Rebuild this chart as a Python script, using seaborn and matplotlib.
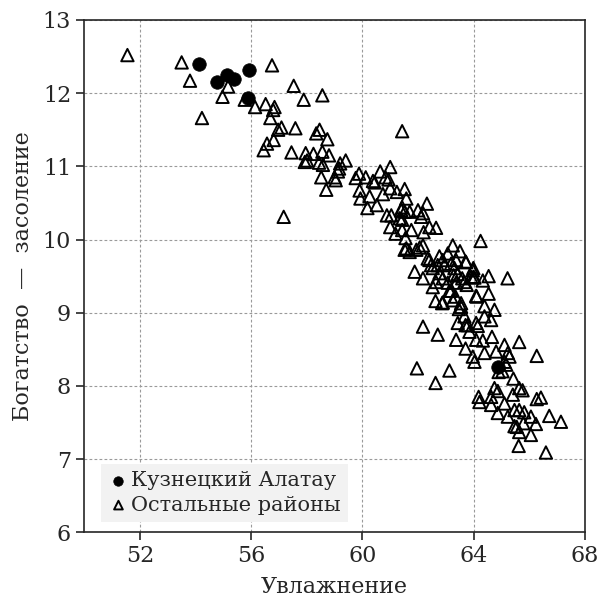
import seaborn as sns
import matplotlib.pyplot as plt
import pandas as pd

# Кузнецкий Алатау (круги)
kuz_x = [54.13, 54.78, 55.13, 55.38, 55.93, 55.90, 64.89]
kuz_y = [12.40, 12.15, 12.25, 12.19, 12.31, 11.93, 8.26]

# Остальные районы (треугольники)
oth_x = [51.55, 53.50, 53.80, 55.17, 54.97, 54.23, 55.77, 56.75, 56.14, 56.52,
         56.84, 56.79, 56.69, 56.57, 56.45, 56.81, 56.97, 57.53, 57.89, 58.56,
         57.09, 57.59, 58.46, 58.34, 58.74, 57.45, 57.96, 58.01, 57.93, 58.24,
         58.56, 58.80, 58.44, 58.58, 59.20, 59.16, 59.12, 59.40, 58.52, 59.00,
         59.04, 58.70, 57.17, 59.88, 59.76, 60.12, 60.38, 60.44, 60.64, 61.00,
         60.83, 60.94, 61.43, 59.90, 59.93, 60.26, 60.52, 60.18, 60.74, 61.00,
         61.24, 61.52, 60.88, 61.43, 61.40, 61.52, 61.34, 61.43, 61.00, 61.19,
         61.43, 61.55, 61.58, 61.58, 61.70, 62.00, 62.11, 62.32, 62.18, 62.41,
         62.65, 62.20, 61.76, 61.04, 61.52, 61.70, 61.94, 62.06, 62.18, 64.25,
         65.22, 63.25, 63.51, 63.07, 63.71, 63.99, 63.99, 64.54, 64.33, 64.09,
         64.54, 64.39, 64.75, 64.63, 64.39, 62.77, 62.89, 62.71, 62.95, 62.47,
         62.53, 62.41, 62.35, 63.19, 63.31, 63.28, 63.43, 63.59, 63.75, 63.67,
         62.77, 62.89, 62.65, 63.07, 63.37, 61.88, 62.18, 62.53, 63.19, 63.35,
         63.55, 63.55, 62.63, 62.89, 63.47, 63.43, 63.71, 63.67, 64.09, 62.18,
         63.37, 63.91, 63.97, 64.03, 63.73, 63.13, 62.87, 63.25, 64.11, 63.79,
         64.15, 62.71, 61.96, 63.13, 62.63, 65.64, 66.27, 63.37, 63.71, 63.97,
         64.03, 64.33, 64.09, 64.39, 64.66, 64.81, 65.11, 65.23, 65.29, 65.11,
         65.17, 64.90, 65.04, 65.43, 65.64, 65.76, 65.41, 64.75, 64.87, 64.18,
         64.21, 64.63, 64.87, 65.23, 65.47, 65.64, 65.82, 66.06, 66.24, 65.79,
         65.55, 65.47, 65.64, 66.06, 65.62, 66.60, 66.72, 67.14, 66.27, 66.42,
         64.63, 65.11, 63.85]
oth_y = [12.52, 12.42, 12.17, 12.09, 11.95, 11.66, 11.91, 12.38, 11.81, 11.85,
         11.81, 11.77, 11.66, 11.31, 11.22, 11.36, 11.50, 12.10, 11.91, 11.97,
         11.53, 11.52, 11.50, 11.45, 11.37, 11.19, 11.18, 11.08, 11.06, 11.17,
         11.20, 11.15, 11.05, 11.02, 11.04, 10.97, 10.93, 11.08, 10.85, 10.85,
         10.81, 10.68, 10.31, 10.90, 10.84, 10.85, 10.80, 10.78, 10.93, 10.99,
         10.85, 10.82, 11.48, 10.67, 10.56, 10.59, 10.47, 10.43, 10.62, 10.70,
         10.65, 10.69, 10.33, 10.44, 10.40, 10.38, 10.29, 10.27, 10.17, 10.08,
         10.13, 10.02, 9.88, 10.56, 10.38, 10.40, 10.31, 10.49, 10.36, 10.17,
         10.16, 10.10, 10.13, 10.33, 9.86, 9.83, 9.86, 9.89, 9.92, 9.98,
         9.47, 9.92, 9.84, 9.81, 9.70, 9.61, 9.49, 9.50, 9.44, 9.23,
         9.26, 9.09, 9.04, 8.90, 8.95, 9.77, 9.72, 9.65, 9.65, 9.65,
         9.61, 9.72, 9.74, 9.67, 9.61, 9.51, 9.53, 9.47, 9.38, 9.42,
         9.54, 9.47, 9.42, 9.41, 9.41, 9.56, 9.47, 9.35, 9.30, 9.22,
         9.13, 9.08, 9.16, 9.14, 9.05, 8.86, 8.83, 8.95, 8.86, 8.81,
         9.72, 9.49, 9.58, 9.48, 9.69, 9.30, 9.13, 9.17, 9.22, 8.83,
         8.82, 8.70, 8.24, 8.21, 8.04, 8.60, 8.41, 8.63, 8.51, 8.40,
         8.33, 8.62, 8.63, 8.45, 8.67, 8.47, 8.56, 8.45, 8.40, 8.33,
         8.29, 8.19, 8.20, 8.10, 7.97, 7.94, 7.88, 7.97, 7.93, 7.85,
         7.78, 7.74, 7.63, 7.58, 7.67, 7.67, 7.64, 7.58, 7.48, 7.49,
         7.44, 7.45, 7.37, 7.33, 7.18, 7.09, 7.59, 7.51, 7.82, 7.84,
         7.85, 7.76, 8.74]

labels = ["Кузнецкий Алатау", "Остальные районы"]
x_ticks = [52, 56, 60, 64, 68]
y_ticks = [6, 7, 8, 9, 10, 11, 12, 13]

df_kuz = pd.DataFrame({"x": kuz_x, "y": kuz_y})
df_oth = pd.DataFrame({"x": oth_x, "y": oth_y})

sns.set_style("ticks")
plt.rcParams["font.family"] = ["DejaVu Serif"]

fig = plt.figure(figsize=(5.98, 5.99), dpi=100)
ax = fig.add_axes([0.141, 0.1114, 0.837, 0.8553])

sns.scatterplot(data=df_oth, x="x", y="y", marker="^", s=80,
                facecolor="none", edgecolor="black", linewidth=1.4,
                ax=ax, label=labels[1], zorder=3)
sns.scatterplot(data=df_kuz, x="x", y="y", marker="o", s=95,
                color="black", edgecolor="black", linewidth=0.5,
                ax=ax, label=labels[0], zorder=4)

ax.set_xlim(50, 68)
ax.set_ylim(6, 13)
ax.set_xticks(x_ticks)
ax.set_yticks(y_ticks)
ax.grid(True, color="#9a9a9a", linestyle=(0, (2.5, 2)), linewidth=0.8)
ax.set_axisbelow(True)
for s in ax.spines.values():
    s.set_linewidth(1.2)
ax.tick_params(axis="both", labelsize=16, length=6, width=1.2, direction="out")

ax.set_xlabel("Увлажнение", fontsize=16, labelpad=6)
ax.set_ylabel("Богатство  —  засоление", fontsize=16, labelpad=6)

h, l = ax.get_legend_handles_labels()
order = [l.index(labels[0]), l.index(labels[1])]
leg = ax.legend([h[i] for i in order], [l[i] for i in order],
                loc="lower left", bbox_to_anchor=(0.012, 0.0),
                fontsize=15, frameon=True, facecolor="#f2f2f2",
                edgecolor="none", framealpha=1, fancybox=False,
                handletextpad=0.1, handlelength=1.0, markerscale=0.7,
                borderpad=0.35, labelspacing=0.25, borderaxespad=0.5)

fig.savefig("out.png", dpi=100)
